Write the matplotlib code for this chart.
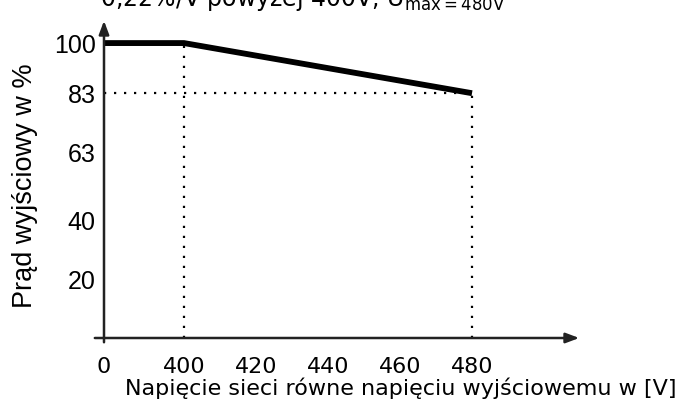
import numpy as np
import matplotlib.pyplot as plt

# dane: napięcie [V] i prąd wyjściowy [%]
voltage = [0, 400, 480]
current = [100, 100, 83]
x_ticks = [0, 400, 420, 440, 460, 480]
y_ticks = [20, 40, 63, 83, 100]


# skala nieliniowa: odcinek 0-400 V jest ściśnięty
def forward(v):
    v = np.asarray(v, dtype=float)
    return np.where(v <= 400, v / 400 * 80, 80 + (v - 400) * 3.6)


def inverse(p):
    p = np.asarray(p, dtype=float)
    return np.where(p <= 80, p / 80 * 400, 400 + (p - 80) / 3.6)


fig = plt.figure(figsize=(6.8, 4.05), dpi=100)
ax = fig.add_axes([104 / 680, 67 / 405, 478 / 680, 320 / 405])
ax.set_xscale('function', functions=(forward, inverse))
ax.set_xlim(0, inverse(478))
ax.set_ylim(0, 108.5)

for s in ax.spines.values():
    s.set_visible(False)

# linie pomocnicze (kropkowane)
ax.plot([voltage[1], voltage[1]], [0, current[1]], color='black', lw=1.6, ls=(0, (1, 3.5)))
ax.plot([voltage[2], voltage[2]], [0, current[2]], color='black', lw=1.6, ls=(0, (1, 3.5)))
ax.plot([0, voltage[2]], [current[2], current[2]], color='black', lw=1.6, ls=(0, (1, 3.5)))

# charakterystyka
ax.plot(voltage, current, color='black', lw=4.2, solid_capstyle='butt')

# osie ze strzałkami
ax.annotate('', xy=(1.0, 0), xytext=(-0.025, 0), xycoords='axes fraction',
            arrowprops=dict(arrowstyle='-|>,head_length=0.8,head_width=0.3', color='#222222', lw=1.8))
ax.annotate('', xy=(0, 1.0), xytext=(0, -0.022), xycoords='axes fraction',
            arrowprops=dict(arrowstyle='-|>,head_length=0.8,head_width=0.3', color='#222222', lw=1.8))

ax.set_xticks(x_ticks)
ax.set_xticklabels([str(t) for t in x_ticks], fontsize=16, family='DejaVu Sans')
ax.set_yticks(y_ticks)
ax.set_yticklabels([str(t) for t in y_ticks], fontsize=18, family='Liberation Sans')
ax.tick_params(axis='x', length=0, pad=14)
ax.tick_params(axis='y', length=0, pad=6)
ax.xaxis.set_minor_locator(plt.NullLocator())

ax.set_xlabel('Napięcie sieci równe napięciu wyjściowemu w [V]', fontsize=16,
              family='DejaVu Sans', labelpad=0, x=0.62)
ax.set_ylabel('Prąd wyjściowy w %', fontsize=19.5, family='Liberation Sans')
ax.yaxis.set_label_coords(-0.138, 0.475)

fig.text(100 / 680, 1 - 6 / 405, '0,22%/V powyżej 400V, U$_{\\mathregular{max=480V}}$',
         fontsize=17, family='DejaVu Sans', ha='left', va='baseline')

fig.savefig('out.png', dpi=100)
